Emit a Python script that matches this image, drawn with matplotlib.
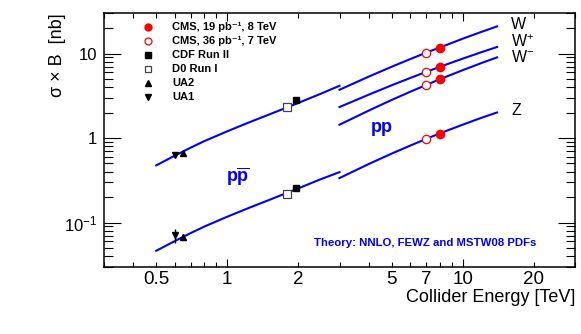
import matplotlib

matplotlib.use("Agg")
import matplotlib.pyplot as plt
from matplotlib.ticker import FixedLocator, FuncFormatter, NullFormatter

plt.rcParams["font.family"] = ["Liberation Sans", "DejaVu Sans"]
plt.rcParams["mathtext.fontset"] = "custom"
plt.rcParams["mathtext.rm"] = "Liberation Sans"
plt.rcParams["mathtext.bf"] = "Liberation Sans:bold"
plt.rcParams["mathtext.it"] = "Liberation Sans:italic"

# NNLO theory, p-pbar (TeV, nb)
PPBAR_E = [0.5, 0.6, 0.7, 0.8, 1.0, 1.2, 1.5, 2.0, 2.5, 3.0]
PPBAR_W = [0.475, 0.62, 0.77, 0.92, 1.2, 1.48, 1.89, 2.6, 3.35, 4.16]
PPBAR_Z = [0.0463, 0.0604, 0.075, 0.0896, 0.117, 0.144, 0.184, 0.253, 0.326, 0.395]

# NNLO theory, pp
PP_E = [3, 4, 5, 6, 7, 8, 10, 12, 14]
PP_W = [3.73, 5.35, 6.99, 8.63, 10.26, 11.8, 15.0, 18.06, 20.99]
PP_WPLUS = [2.33, 3.27, 4.22, 5.15, 6.07, 6.97, 8.71, 10.38, 11.97]
PP_WMINUS = [1.44, 2.12, 2.83, 3.54, 4.25, 4.97, 6.36, 7.72, 9.02]
PP_Z = [0.336, 0.494, 0.655, 0.816, 0.976, 1.136, 1.44, 1.735, 2.01]

# measurements
CMS8_E = 8.0
CMS8_VALS = [11.8, 6.92, 4.99, 1.12]   # W, W+, W-, Z
CMS7_E = 7.0
CMS7_VALS = [10.3, 6.09, 4.27, 0.98]
CDF_E = 1.96
CDF_VALS = [2.79, 0.256]               # W, Z
D0_E = 1.8
D0_VALS = [2.33, 0.219]
UA2_E = 0.65
UA2_VALS = [0.665, 0.068]
UA2_ERR = [0.0, 0.006]
UA1_E = 0.6
UA1_VALS = [0.634, 0.071]
UA1_ERR = [0.0, 0.013]

X_LABELED = [0.5, 2, 5, 7, 20]

LEGEND_LABELS = ["CMS, 19 pb\u207b\u00b9, 8 TeV", "CMS, 36 pb\u207b\u00b9, 7 TeV",
                 "CDF Run II", "D0 Run I", "UA2", "UA1"]

BLUE = "#0000ff"
RED = "#ff0000"


def main():
    fig = plt.figure(figsize=(5.81, 3.34), dpi=100)
    ax = fig.add_axes([104 / 581, 1 - 266.7 / 334, 471 / 581, 253.4 / 334])

    # theory curves
    for vals in (PPBAR_W, PPBAR_Z):
        ax.plot(PPBAR_E, vals, color=BLUE, lw=1.5, zorder=2)
    for vals in (PP_W, PP_WPLUS, PP_WMINUS, PP_Z):
        ax.plot(PP_E, vals, color=BLUE, lw=1.5, zorder=2)

    # data points; styles reused for the hand-placed legend
    styles = [
        dict(marker="o", color=RED, ms=6),
        dict(marker="o", mfc="white", mec=RED, mew=0.9, ms=6),
        dict(marker="s", color="black", ms=5),
        dict(marker="s", mfc="white", mec="#444444", mew=0.9, ms=6),
        dict(marker="^", color="black", ms=5),
        dict(marker="v", color="black", ms=5),
    ]
    ax.errorbar([UA2_E] * 2, UA2_VALS, yerr=UA2_ERR, fmt="none", ecolor="black",
                elinewidth=1.0, zorder=3)
    ax.errorbar([UA1_E] * 2, UA1_VALS, yerr=UA1_ERR, fmt="none", ecolor="black",
                elinewidth=1.0, zorder=3)
    series = [([CMS8_E] * 4, CMS8_VALS), ([CMS7_E] * 4, CMS7_VALS),
              ([CDF_E] * 2, CDF_VALS), ([D0_E] * 2, D0_VALS),
              ([UA2_E] * 2, UA2_VALS), ([UA1_E] * 2, UA1_VALS)]
    for (xs, ys), st in zip(series, styles):
        ax.plot(xs, ys, linestyle="none", zorder=4, **st)

    ax.set_xscale("log")
    ax.set_yscale("log")
    ax.set_xlim(0.3, 30)
    ax.set_ylim(0.03, 30)

    # ROOT-like ticks: inside, on all four sides
    ax.xaxis.set_major_locator(FixedLocator([1, 10]))
    ax.xaxis.set_major_formatter(FuncFormatter(lambda v, p: f"{v:g}"))
    x_minor = [v * d for d in (0.1, 1, 10) for v in range(2, 10) if 0.3 <= v * d <= 30]
    ax.xaxis.set_minor_locator(FixedLocator(x_minor))
    ax.xaxis.set_minor_formatter(FuncFormatter(
        lambda v, p: f"{v:g}" if any(abs(v - t) < 1e-6 for t in X_LABELED) else ""))
    ax.yaxis.set_major_locator(FixedLocator([0.1, 1, 10]))
    ax.yaxis.set_major_formatter(FuncFormatter(
        lambda v, p: {0.1: "$10^{-1}$", 1: "1", 10: "10"}.get(round(v, 3), "")))
    y_minor = [v * d for d in (0.01, 0.1, 1, 10) for v in range(2, 10) if 0.03 <= v * d <= 30]
    ax.yaxis.set_minor_locator(FixedLocator(y_minor))
    ax.yaxis.set_minor_formatter(NullFormatter())

    ax.tick_params(axis="both", which="both", direction="in", top=True,
                   right=True, width=0.8, colors="black")
    ax.tick_params(axis="x", which="major", length=6, labelsize=13.5, pad=3)
    ax.tick_params(axis="x", which="minor", length=3.6, labelsize=13.5, pad=3)
    ax.tick_params(axis="y", which="major", length=12, labelsize=12, pad=5)
    ax.tick_params(axis="y", which="minor", length=6.5)
    for sp in ax.spines.values():
        sp.set_linewidth(1.1)

    ax.set_xlabel("Collider Energy [TeV]", loc="right", fontsize=13, labelpad=1)
    ax.set_ylabel("σ × B  [nb]", loc="top", fontsize=13, labelpad=-2)

    # curve labels
    ax.text(16.1, 21.9, "W", fontsize=11.5, va="center", ha="left")
    ax.text(16.1, 13.9, "W$^{+}$", fontsize=11.5, va="center", ha="left")
    ax.text(16.1, 9.1, "W$^{-}$", fontsize=11.5, va="center", ha="left")
    ax.text(16.1, 2.1, "Z", fontsize=11.5, va="center", ha="left")
    ax.text(4.53, 1.32, "pp", fontsize=13, fontweight="bold", color=BLUE,
            ha="center", va="center")
    ax.text(1.11, 0.348, r"$\mathbf{p}\overline{\mathbf{p}}$", fontsize=13,
            color=BLUE, ha="center", va="center")
    ax.text(0.6815, 0.0935, "Theory: NNLO, FEWZ and MSTW08 PDFs", fontsize=8.2,
            fontweight="bold", color=BLUE, ha="center", va="center",
            transform=ax.transAxes)

    # legend, placed by hand in axes fractions
    for i, (label, st) in enumerate(zip(LEGEND_LABELS, styles)):
        yf = (266.7 - (27 + 14 * i)) / 253.4
        st = dict(st, ms=st["ms"] - 1)
        ax.plot([0.0934], [yf], transform=ax.transAxes, clip_on=False,
                linestyle="none", **st)
        ax.text(0.1444, yf, label, transform=ax.transAxes, fontsize=8.0,
                fontweight="bold", va="center", ha="left")

    fig.savefig("out.png", dpi=100)


if __name__ == "__main__":
    main()
